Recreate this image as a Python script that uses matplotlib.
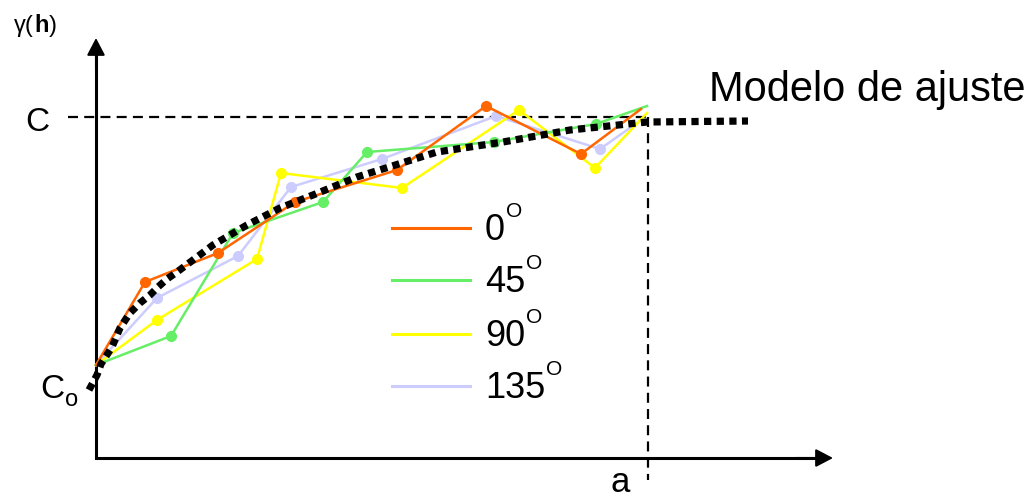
import matplotlib
matplotlib.use("Agg")
import matplotlib.pyplot as plt

plt.rcParams["font.family"] = ["Liberation Sans", "DejaVu Sans"]

h_0 = [0, 49, 122, 199, 301, 390, 485, 545]
g_0 = [93, 176, 205, 256, 288, 352, 304, 349]
h_45 = [0, 75, 137, 227, 271, 398, 500, 551]
g_45 = [93, 122, 225, 256, 306, 316, 334, 352]
h_90 = [0, 61, 161, 185, 306, 423, 499, 551]
g_90 = [93, 138, 199, 285, 270, 348, 290, 345]
h_135 = [0, 61, 142, 195, 286, 400, 504, 541]
g_135 = [93, 160, 202, 271, 299, 342, 309, 335]

# fitted model (dotted curve)
h_model = [-7, 1, 5, 16, 24, 34, 44, 54, 62, 71, 81, 117, 151, 184, 217, 261, 341, 407, 474, 551, 652]
g_model = [68, 83, 94, 111, 130, 145, 155, 163, 171, 179, 186, 213, 233, 250, 263, 281, 306, 316, 328, 336, 337]

sill = 341
range_a = 552
nugget = 93

directions = ["0", "45", "90", "135"]
colors = ["#FF6600", "#66EE66", "#FFFF00", "#CCCCFF"]
series = [(h_0, g_0), (h_45, g_45), (h_90, g_90), (h_135, g_135)]

fig = plt.figure(figsize=(10.36, 4.97), dpi=100)
ax = fig.add_axes([0, 0, 1, 1])
ax.set_xlim(-96, 940)
ax.set_ylim(-39, 458)
ax.axis("off")

# axes with arrows
ax.plot([0, 0, 725], [405, 0, 0], color="k", lw=2.2, solid_joinstyle="miter")
arrow = dict(arrowstyle="-|>,head_length=1.05,head_width=0.55", mutation_scale=10,
             lw=1.5, color="k", shrinkA=0, shrinkB=0)
ax.annotate("", xy=(0, 420), xytext=(0, 390), arrowprops=arrow)
ax.annotate("", xy=(737, 0), xytext=(700, 0), arrowprops=arrow)

# sill and range guides
dash = (0, (4.5, 2.8))
ax.plot([-28, range_a], [sill, sill], color="k", lw=1.6, linestyle=dash)
ax.plot([range_a, range_a], [sill, -22], color="k", lw=1.6, linestyle=dash)

for (h, g), c in list(zip(series, colors))[::-1]:
    ax.plot(h, g, color=c, lw=1.8)
    ax.plot(h[1:-1], g[1:-1], "o", color=c, ms=7)

ax.plot(h_model, g_model, color="k", lw=5.2, linestyle=(0, (1.0, 0.75)),
        dash_capstyle="butt")

renderer = fig.canvas.get_renderer()
inv = ax.transData.inverted()


def right_of(t):
    bb = t.get_window_extent(renderer=renderer)
    return inv.transform((bb.x1, bb.y0))[0]


# legend drawn by hand (superscript O)
leg_y = [230, 178, 124, 72]
for d, c, y in zip(directions, colors, leg_y):
    ax.plot([296, 374], [y, y], color=c, lw=2.2)
    t = ax.text(389, y - 12, d, fontsize=26, va="baseline")
    ax.text(right_of(t) + 1, y + 11, "O", fontsize=15, va="baseline")

# labels
ax.text(613, 357, "Modelo de ajuste", fontsize=30, va="baseline")
ax.text(-71, 327, "C", fontsize=24, va="baseline")
t = ax.text(-56, 60, "C", fontsize=24, va="baseline")
ax.text(right_of(t) + 1, 52, "o", fontsize=17, va="baseline")
ax.text(524, -34, "a", fontsize=25, ha="center", va="baseline")

t = ax.text(-82, 426, "\u03b3(", fontsize=17, va="baseline")
t = ax.text(right_of(t), 426, "h", fontsize=17, fontweight="bold", va="baseline")
ax.text(right_of(t), 426, ")", fontsize=17, va="baseline")

fig.savefig("out.png", dpi=100)
